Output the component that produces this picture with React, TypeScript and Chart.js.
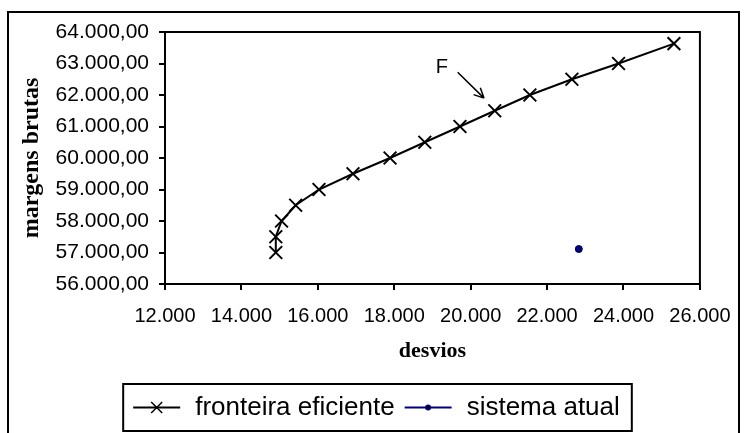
import React, { useEffect, useRef } from "react";
import { Chart, registerables } from "chart.js";

Chart.register(...registerables);

// ---- data ----
const desvios = [14900, 14900, 15050, 15420, 16030, 16920, 17890, 18800, 19720, 20630, 21550, 22650, 23870, 25320];
const margens = [57000, 57500, 58000, 58500, 59000, 59500, 60000, 60500, 61000, 61500, 62000, 62500, 63000, 63630];
const atualDesvios = [22830];
const atualMargens = [57110];
const seriesNames = ["fronteira eficiente", "sistema atual"];
const xTickValues = [12000, 14000, 16000, 18000, 20000, 22000, 24000, 26000];
const yTickValues = [56000, 57000, 58000, 59000, 60000, 61000, 62000, 63000, 64000];
const xTitle = "desvios";
const yTitle = "margens brutas";
// annotation "F" and its arrow, in data units
const annotationLabel = "F";
const annotationLabelAt = [19245, 62860];
const arrowFrom = [19660, 62720];
const arrowTo = [20350, 61900];

const thousands = (v: number) => String(Math.round(v)).replace(/\B(?=(\d{3})+(?!\d))/g, ".");

const SANS = "'Liberation Sans', Arial, sans-serif";
const SERIF = "'Liberation Serif', 'Times New Roman', serif";
const LEGEND_FONT = 26;

const decorPlugin = {
  id: "decor",
  beforeDatasetsDraw(chart: any) {
    const { ctx, chartArea: a } = chart;
    ctx.save();
    ctx.strokeStyle = "#000";
    ctx.lineWidth = 2;
    ctx.strokeRect(a.left, a.top, a.right - a.left, a.bottom - a.top);
    ctx.restore();
  },
  afterDraw(chart: any) {
    const { ctx } = chart;
    ctx.save();
    // outer frame
    ctx.strokeStyle = "#000";
    ctx.lineWidth = 2;
    ctx.strokeRect(8, 12, 731, 440);

    // annotation
    const xs = chart.scales.x;
    const ys = chart.scales.y;
    ctx.fillStyle = "#000";
    ctx.font = `20px ${SANS}`;
    ctx.textAlign = "center";
    ctx.textBaseline = "middle";
    ctx.fillText(annotationLabel, xs.getPixelForValue(annotationLabelAt[0]), ys.getPixelForValue(annotationLabelAt[1]));
    const x1 = xs.getPixelForValue(arrowFrom[0]);
    const y1 = ys.getPixelForValue(arrowFrom[1]);
    const x2 = xs.getPixelForValue(arrowTo[0]);
    const y2 = ys.getPixelForValue(arrowTo[1]);
    ctx.lineWidth = 1.5;
    ctx.beginPath();
    ctx.moveTo(x1, y1);
    ctx.lineTo(x2, y2);
    const ang = Math.atan2(y2 - y1, x2 - x1);
    const hl = 11;
    ctx.moveTo(x2, y2);
    ctx.lineTo(x2 - hl * Math.cos(ang - 0.45), y2 - hl * Math.sin(ang - 0.45));
    ctx.moveTo(x2, y2);
    ctx.lineTo(x2 - hl * Math.cos(ang + 0.45), y2 - hl * Math.sin(ang + 0.45));
    ctx.stroke();

    // legend samples and box
    const legend = chart.legend;
    const hb = legend.legendHitBoxes;
    if (hb && hb.length) {
      const sampleW = 47;
      hb.forEach((b: any, i: number) => {
        const cy = b.top + b.height / 2;
        const color = i === 0 ? "#000" : "#000080";
        ctx.strokeStyle = color;
        ctx.lineWidth = 2;
        ctx.beginPath();
        ctx.moveTo(b.left, cy);
        ctx.lineTo(b.left + sampleW, cy);
        ctx.stroke();
        const cx = b.left + sampleW / 2;
        if (i === 0) {
          const r = 5.5;
          ctx.lineWidth = 1.5;
          ctx.beginPath();
          ctx.moveTo(cx - r, cy - r);
          ctx.lineTo(cx + r, cy + r);
          ctx.moveTo(cx - r, cy + r);
          ctx.lineTo(cx + r, cy - r);
          ctx.stroke();
        } else {
          ctx.fillStyle = "#000080";
          ctx.beginPath();
          ctx.arc(cx, cy, 3, 0, Math.PI * 2);
          ctx.fill();
          ctx.fillStyle = "#000";
          ctx.beginPath();
          ctx.arc(cx, cy, 1.5, 0, Math.PI * 2);
          ctx.fill();
        }
      });
      const first = hb[0];
      const last = hb[hb.length - 1];
      const cy = first.top + first.height / 2;
      const left = first.left - 10;
      const right = last.left + last.width + 12;
      ctx.strokeStyle = "#000";
      ctx.lineWidth = 2;
      ctx.strokeRect(left, cy - 23.5, right - left, 47);
    }
    ctx.restore();
  },
};

export default function App() {
  const canvasRef = useRef<HTMLCanvasElement | null>(null);

  useEffect(() => {
    if (!canvasRef.current) return;
    const chart = new Chart(canvasRef.current, {
      type: "scatter",
      data: {
        datasets: [
          {
            label: seriesNames[0],
            data: desvios.map((x, i) => ({ x, y: margens[i] })),
            showLine: true,
            borderColor: "#000",
            borderWidth: 2,
            tension: 0,
            pointStyle: "crossRot",
            pointRadius: 9,
            pointBorderColor: "#000",
            pointBorderWidth: 2,
            pointBackgroundColor: "#000",
            clip: false as any,
          },
          {
            label: seriesNames[1],
            data: atualDesvios.map((x, i) => ({ x, y: atualMargens[i] })),
            showLine: false,
            pointStyle: "circle",
            pointRadius: 3.5,
            pointBackgroundColor: "#000080",
            pointBorderColor: "#000040",
            pointBorderWidth: 1,
            borderColor: "#000080",
          },
        ],
      },
      options: {
        responsive: false,
        animation: false,
        events: [],
        layout: { padding: { left: 8, top: 32, right: 0, bottom: 2.5 } },
        scales: {
          x: {
            type: "linear",
            min: xTickValues[0],
            max: xTickValues[xTickValues.length - 1],
            afterBuildTicks: (s: any) => {
              s.ticks = xTickValues.map((v) => ({ value: v }));
            },
            afterFit: (s: any) => {
              s.height = 100.5;
            },
            grid: { drawOnChartArea: false, drawTicks: true, tickLength: 6, color: "#000", lineWidth: 2 },
            border: { display: true, color: "#000", width: 2 },
            ticks: {
              color: "#000",
              font: { family: SANS, size: 20 },
              padding: 14.5,
              maxRotation: 0,
              autoSkip: false,
              callback: (v: any) => thousands(Number(v)),
            },
            title: {
              display: true,
              text: xTitle,
              color: "#000",
              font: { family: SERIF, size: 22, weight: "bold" },
              padding: { top: 0, bottom: 19.5 },
            },
          },
          y: {
            type: "linear",
            min: yTickValues[0],
            max: yTickValues[yTickValues.length - 1],
            afterBuildTicks: (s: any) => {
              s.ticks = yTickValues.map((v) => ({ value: v }));
            },
            afterFit: (s: any) => {
              s.width = 157;
            },
            grid: { drawOnChartArea: false, drawTicks: true, tickLength: 6, color: "#000", lineWidth: 2 },
            border: { display: true, color: "#000", width: 2 },
            ticks: {
              color: "#000",
              font: { family: SANS, size: 21 },
              padding: 10,
              autoSkip: false,
              callback: (v: any) => thousands(Number(v)) + ",00",
            },
            title: {
              display: true,
              text: yTitle,
              color: "#000",
              font: { family: SERIF, size: 24, weight: "bold" },
              padding: { top: 9.6, bottom: 0 },
            },
          },
          yRight: {
            type: "linear",
            position: "right",
            display: true,
            grid: { display: false },
            border: { display: false },
            ticks: { display: false },
            afterFit: (s: any) => {
              s.width = 35;
            },
          },
        },
        plugins: {
          legend: {
            display: true,
            position: "bottom",
            labels: {
              color: "#000",
              font: { family: SANS, size: LEGEND_FONT },
              boxWidth: 49,
              boxHeight: 2,
              padding: 10,
              generateLabels: (chart: any) =>
                Chart.defaults.plugins.legend.labels.generateLabels(chart).map((l: any) => ({
                  ...l,
                  fillStyle: "rgba(0,0,0,0)",
                  strokeStyle: "rgba(0,0,0,0)",
                  lineWidth: 0,
                  fontColor: "#000",
                })),
            },
          },
          tooltip: { enabled: false },
        },
      },
      plugins: [decorPlugin],
    } as any);
    return () => chart.destroy();
  }, []);

  return (
    <canvas
      ref={canvasRef}
      width={745}
      height={433}
      style={{ position: "absolute", left: 0, top: 0, width: 745, height: 433, display: "block" }}
    />
  );
}
